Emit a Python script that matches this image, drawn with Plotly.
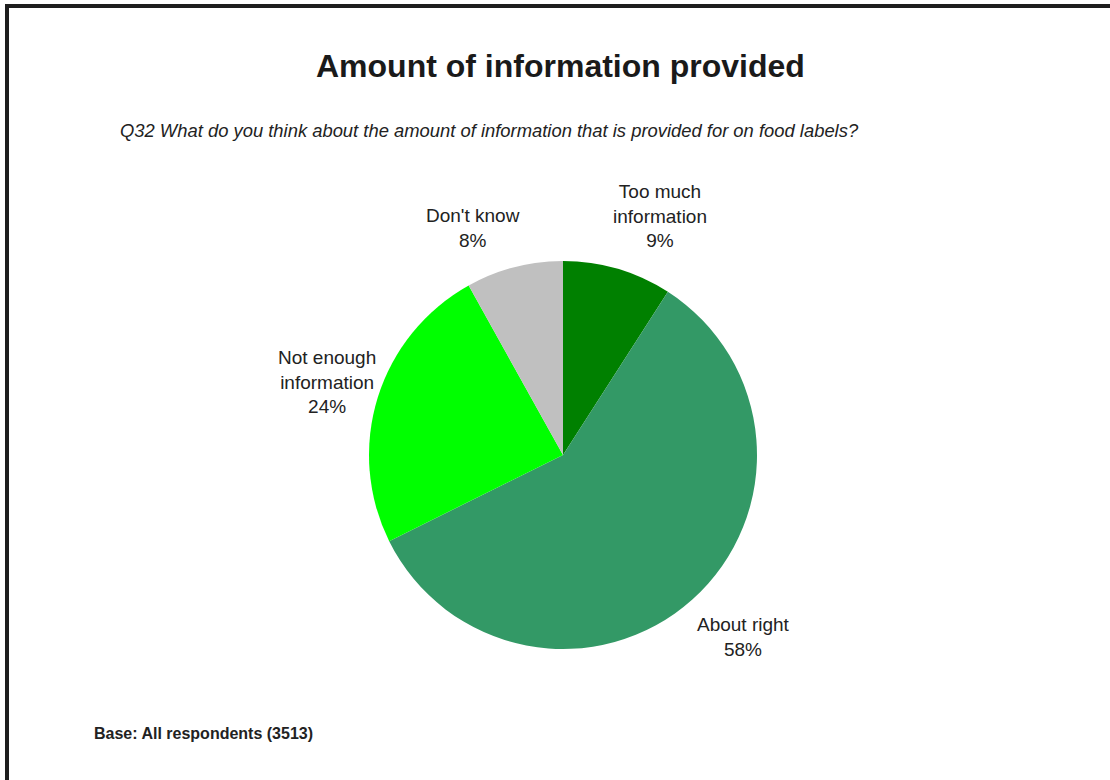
import plotly.graph_objects as go

# Survey responses (percent of respondents), clockwise from 12 o'clock
categories = ["Too much information", "About right", "Not enough information", "Don't know"]
label_lines = ["Too much<br>information", "About right", "Not enough<br>information", "Don't know"]
percentages = [9, 58, 24, 8]
slice_colors = ["#008000", "#339966", "#00FF00", "#C0C0C0"]

W, H = 1110, 780


def px_x(x):
    return x / W


def px_y(y):
    return 1 - y / H


# Pie geometry (pixels)
cx, cy, r = 563, 455, 194

fig = go.Figure(
    go.Pie(
        labels=categories,
        values=percentages,
        sort=False,
        direction="clockwise",
        rotation=0,
        marker=dict(colors=slice_colors, line=dict(width=0)),
        textinfo="none",
        hoverinfo="label+percent",
        showlegend=False,
        domain=dict(x=[px_x(cx - r), px_x(cx + r)], y=[px_y(cy + r), px_y(cy - r)]),
    )
)

# Label anchor points (pixel centres of each text block)
label_pos = [(660, 216), (743, 637), (327, 382), (473, 228)]
annotations = []
for text, val, (lx, ly) in zip(label_lines, percentages, label_pos):
    annotations.append(
        dict(
            x=px_x(lx), y=px_y(ly), xref="paper", yref="paper",
            text=f"{text}<br>{val}%", showarrow=False,
            xanchor="center", yanchor="middle", align="center",
            font=dict(family="Liberation Sans, Arial", size=19, color="#222222"),
        )
    )

annotations += [
    dict(x=px_x(560), y=px_y(66), xref="paper", yref="paper",
         text="<b>Amount of information provided</b>", showarrow=False,
         xanchor="center", yanchor="middle",
         font=dict(family="Liberation Sans, Arial", size=32, color="#1a1a1a")),
    dict(x=px_x(118), y=px_y(131), xref="paper", yref="paper",
         text="<i>Q32 What do you think about the amount of information that is provided for on food labels?</i>",
         showarrow=False, xanchor="left", yanchor="middle",
         font=dict(family="Liberation Sans, Arial", size=18.4, color="#222222")),
    dict(x=px_x(92), y=px_y(733), xref="paper", yref="paper",
         text="<b>Base: All respondents (3513)</b>", showarrow=False,
         xanchor="left", yanchor="middle",
         font=dict(family="Liberation Sans, Arial", size=16, color="#222222")),
]

# Frame: top and left edges
shapes = [
    dict(type="rect", xref="paper", yref="paper", x0=px_x(5), x1=1, y0=px_y(8), y1=px_y(4),
         fillcolor="#1e1e1e", line=dict(width=0)),
    dict(type="rect", xref="paper", yref="paper", x0=px_x(5), x1=px_x(9), y0=0, y1=px_y(4),
         fillcolor="#1e1e1e", line=dict(width=0)),
]

fig.update_layout(
    width=W, height=H,
    margin=dict(l=0, r=0, t=0, b=0),
    paper_bgcolor="white", plot_bgcolor="white",
    annotations=annotations, shapes=shapes,
)

fig.write_html("out.html")
